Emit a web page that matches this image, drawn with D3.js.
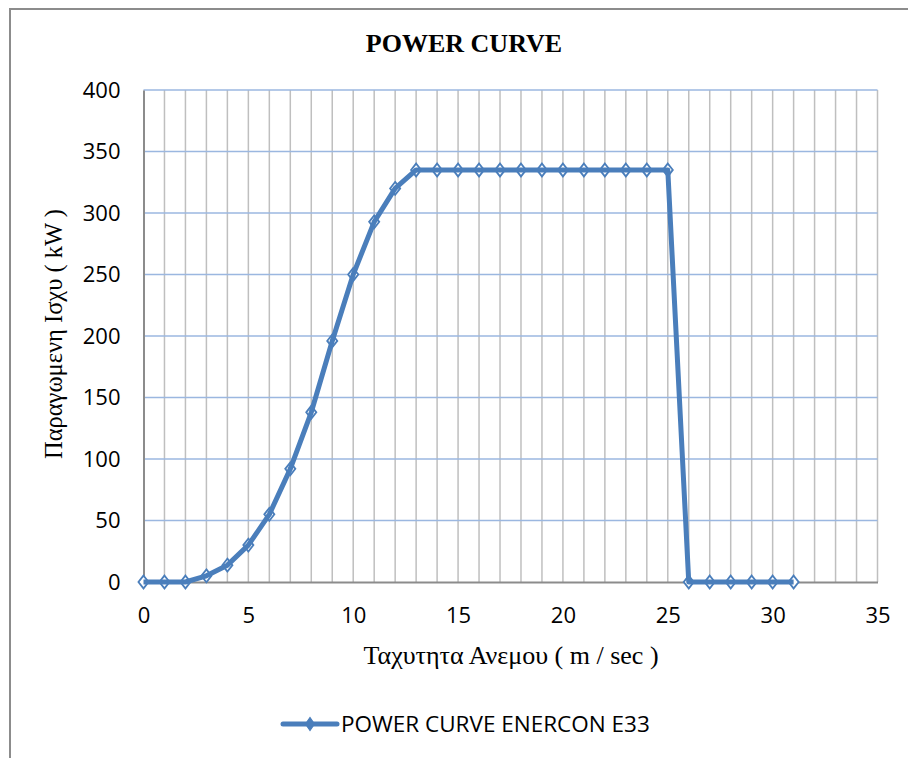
<!DOCTYPE html>
<html>
<head>
<meta charset="utf-8">
<script src="https://cdn.jsdelivr.net/npm/d3@7"></script>
<style>
  body { margin: 0; background: #fff; }
  svg { display: block; }
</style>
</head>
<body>
<svg id="chart" width="908" height="758"></svg>
<script>
// wind speed (m/s) and output (kW), Enercon E33
const speeds = [0, 1, 2, 3, 4, 5, 6, 7, 8, 9, 10, 11, 12, 13, 14, 15, 16, 17, 18, 19, 20,
  21, 22, 23, 24, 25, 26, 27, 28, 29, 30, 31];
const power = [0, 0, 0, 5, 13.7, 30, 55, 92, 138, 196, 250, 292.8, 320, 335, 335, 335, 335, 335, 335, 335, 335,
  335, 335, 335, 335, 335, 0, 0, 0, 0, 0, 0];
const xTicks = [0, 5, 10, 15, 20, 25, 30, 35];
const yTicks = [0, 50, 100, 150, 200, 250, 300, 350, 400];
const seriesName = 'POWER CURVE ENERCON E33';

const svg = d3.select('#chart');
const blue = '#4a7ebb';

// outer frame
svg.append('path')
  .attr('d', 'M10,770V9H920')
  .attr('fill', 'none')
  .attr('stroke', '#8c8c8c')
  .attr('stroke-width', 2);

const x = d3.scaleLinear().domain([0, 35]).range([143.5, 877.5]);
const y = d3.scaleLinear().domain([0, 400]).range([582, 90]);

// vertical grid every 1 m/s
svg.append('g')
  .selectAll('line')
  .data(d3.range(1, 36))
  .join('line')
    .attr('x1', d => x(d)).attr('x2', d => x(d))
    .attr('y1', y(400)).attr('y2', y(0))
    .attr('stroke', '#bfbfbf')
    .attr('stroke-width', 1.5);

// horizontal grid
svg.append('g')
  .selectAll('line')
  .data(yTicks.slice(1))
  .join('line')
    .attr('x1', x(0)).attr('x2', x(35))
    .attr('y1', d => y(d)).attr('y2', d => y(d))
    .attr('stroke', '#9bb7e0')
    .attr('stroke-width', 1.5);

// axes
const yAxis = svg.append('g')
  .attr('transform', `translate(${x(0)},0)`)
  .call(d3.axisLeft(y).tickValues(yTicks).tickSize(0).tickPadding(23));
yAxis.select('.domain').attr('stroke', '#8c8c8c').attr('stroke-width', 2);

const xAxis = svg.append('g')
  .attr('transform', `translate(0,${y(0)})`)
  .call(d3.axisBottom(x).tickValues(xTicks).tickSize(0).tickPadding(25));
xAxis.select('.domain').attr('stroke', '#8c8c8c').attr('stroke-width', 2);

svg.selectAll('.tick text')
  .attr('font-family', '"Open Sans", "Noto Sans", sans-serif')
  .attr('font-size', 22)
  .attr('fill', '#000');

// title + axis titles
svg.append('text')
  .attr('x', 464).attr('y', 52)
  .attr('text-anchor', 'middle')
  .attr('font-family', '"Liberation Serif", "Times New Roman", serif')
  .attr('font-weight', 'bold')
  .attr('font-size', 26)
  .text('POWER CURVE');

svg.append('text')
  .attr('x', 511).attr('y', 664)
  .attr('text-anchor', 'middle')
  .attr('font-family', '"Liberation Serif", "Times New Roman", serif')
  .attr('font-size', 26)
  .text('Ταχυτητα Ανεμου ( m / sec )');

svg.append('text')
  .attr('transform', 'translate(62,334) rotate(-90)')
  .attr('text-anchor', 'middle')
  .attr('font-family', '"Liberation Serif", "Times New Roman", serif')
  .attr('font-size', 24.5)
  .text('Παραγωμενη Ισχυ ( kW )');

// markers under the line, so only the tips peek out
const diamond = d3.symbol().type(d3.symbolDiamond).size(48);
const pts = speeds.map((s, i) => [s, power[i]]);

svg.append('g')
  .selectAll('path')
  .data(pts)
  .join('path')
    .attr('d', diamond)
    .attr('transform', d => `translate(${x(d[0])},${y(d[1])}) scale(1.35,1)`)
    .attr('fill', '#fff')
    .attr('stroke', blue)
    .attr('stroke-width', 1.5);

svg.append('path')
  .datum(pts)
  .attr('d', d3.line().x(d => x(d[0])).y(d => y(d[1])))
  .attr('fill', 'none')
  .attr('stroke', blue)
  .attr('stroke-width', 5)
  .attr('stroke-linejoin', 'round');

// legend
const lg = svg.append('g').attr('transform', 'translate(283,724)');
lg.append('line')
  .attr('x1', 0).attr('x2', 54)
  .attr('stroke', blue)
  .attr('stroke-width', 5)
  .attr('stroke-linecap', 'round');
lg.append('path')
  .attr('d', diamond)
  .attr('transform', 'translate(27,0) scale(1.2,1)')
  .attr('fill', blue)
  .attr('stroke', blue);
lg.append('text')
  .attr('x', 58).attr('y', 8)
  .attr('font-family', '"Open Sans", "Noto Sans", sans-serif')
  .attr('font-size', 22.5)
  .text(seriesName);
</script>
</body>
</html>
